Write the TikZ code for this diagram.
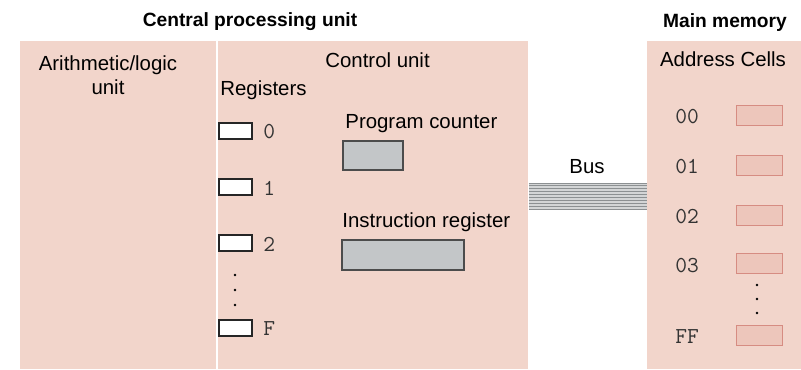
\documentclass[tikz,border=0pt]{standalone}
\usepackage{fontspec}
\setmainfont{Liberation Sans}
\definecolor{panelpink}{HTML}{F2D5CB}
\definecolor{regfill}{HTML}{C3C6C8}
\definecolor{cellfill}{HTML}{EDC6BB}
\definecolor{celldraw}{HTML}{D68C82}
\definecolor{busgray}{HTML}{8C9092}
\definecolor{buslight}{HTML}{D3D5D6}
\begin{document}
\begin{tikzpicture}[x=0.5pt,y=-0.5pt,
  lbl/.style={font=\fontsize{10.2}{12}\selectfont, inner sep=0pt},
  heading/.style={font=\fontsize{9.6}{11}\selectfont\bfseries, inner sep=0pt, anchor=base},
  mono/.style={font=\fontsize{11.4}{13}\selectfont\ttfamily, text=black!80, inner sep=0pt, anchor=base west},
  panel/.style={fill=panelpink, draw=none, anchor=north west, minimum height=164pt, inner sep=0pt},
  regbox/.style={draw=black!85, fill=white, line width=0.7pt, minimum width=16.5pt, minimum height=8pt, inner sep=0pt},
  graybox/.style={draw=black!70, fill=regfill, line width=0.6pt, inner sep=0pt},
  cellbox/.style={draw=celldraw, fill=cellfill, line width=0.5pt, minimum width=23pt, minimum height=10pt, inner sep=0pt},
  dot/.style={fill=black, circle, inner sep=0.5pt}]
  \useasboundingbox (0,0) rectangle (801,369);

  % Panels for the processor and the memory
  \node[panel, minimum width=254pt] (cpu) at (20,41) {};
  \node[panel, minimum width=77pt] (mem) at (647,41) {};
  \draw[white, line width=1pt] (217,41) -- (217,369);

  % Headings
  \node[heading] (cpuTitle) at (250,27) {Central processing unit};
  \node[heading] (memTitle) at (725,28) {Main memory};

  % Arithmetic/logic unit and control unit
  \node[lbl, anchor=base] (aluA) at (108,70) {Arithmetic/logic};
  \node[lbl, anchor=base] (aluB) at (108,94) {unit};
  \node[lbl, anchor=base west] (ctrl) at (325,68) {Control unit};
  \node[lbl, anchor=base west] (regs) at (220,96) {Registers};

  % Registers
  \foreach \name/\y/\ty in {0/131/138, 1/187/195, 2/243/251, F/328/335} {
    \node[regbox] (reg\name) at (235.5,\y) {};
    \node[mono] (regLbl\name) at (263,\ty) {\name};
  }
  \foreach \y in {275,290,305} {\node[dot] at (235,\y) {};}

  % Program counter and instruction register
  \node[lbl, anchor=base west] (pcLbl) at (345,128) {Program counter};
  \node[graybox, minimum width=30pt, minimum height=14.5pt] (pc) at (373,155.5) {};
  \node[lbl, anchor=base west] (irLbl) at (342,227) {Instruction register};
  \node[graybox, minimum width=61pt, minimum height=15pt] (ir) at (403,255) {};

  % Bus
  \fill[buslight] (cpu.east |- 0,183) rectangle (mem.west |- 0,209);
  \foreach \y in {183,185.9,...,209.5} {
    \draw[busgray, line width=0.5pt] (cpu.east |- 0,\y) -- (mem.west |- 0,\y);
  }
  \node[lbl, anchor=base] (busLbl) at (587,173) {Bus};

  % Main memory cells
  \node[lbl, anchor=base] (addrLbl) at (723,67) {Address Cells};
  \foreach \addr/\y/\ty in {00/115/123, 01/165/173, 02/215/223, 03/263/272, FF/335/343} {
    \node[mono] (addr\addr) at (675,\ty) {\addr};
    \node[cellbox] (cell\addr) at (759,\y) {};
  }
  \foreach \y in {285,299,313} {\node[dot] at (757,\y) {};}
\end{tikzpicture}
\end{document}
